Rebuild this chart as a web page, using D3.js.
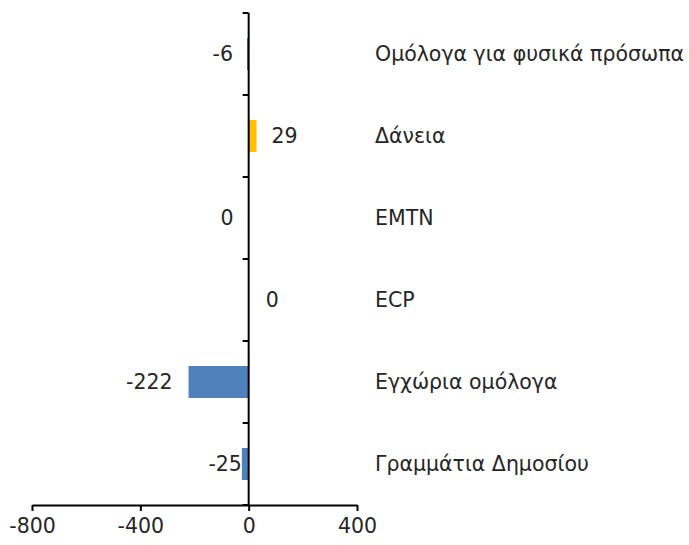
<!DOCTYPE html>
<html><head><meta charset="utf-8">
<script src="https://cdn.jsdelivr.net/npm/d3@7"></script>
<style>body{margin:0;background:#fff}svg{display:block}</style>
</head><body>
<script>
const categories = ["Ομόλογα για φυσικά πρόσωπα","Δάνεια","EMTN","ECP","Εγχώρια ομόλογα","Γραμμάτια Δημοσίου"];
const values = [-6, 29, 0, 0, -222, -25];
const barColors = ["#4F81BD","#FFC000","#4F81BD","#4F81BD","#4F81BD","#4F81BD"];
const xTicks = [-800, -400, 0, 400];
// label offsets (px) from bar end
const labelDx = [-14, 15, -15, 17, -16, 0];

const W = 689, H = 545;
const svg = d3.select("body").append("svg").attr("width", W).attr("height", H);
const font = "'DejaVu Sans', Verdana, sans-serif";
const fs = 20.5;
const x = d3.scaleLinear().domain([-800, 400]).range([32, 357]);
const y = d3.scaleBand().domain(categories).range([13, 505]).paddingInner(0.61).paddingOuter(0.305);
const fmt = v => String(v).replace("\u2212", "-");

// bars
svg.selectAll("rect.bar").data(categories).join("rect")
  .attr("x", (d,i) => x(Math.min(0, values[i])))
  .attr("y", d => y(d))
  .attr("width", (d,i) => Math.abs(x(values[i]) - x(0)))
  .attr("height", y.bandwidth())
  .attr("fill", (d,i) => barColors[i]);

// x axis
const xa = svg.append("g").attr("transform", "translate(0,505)")
  .call(d3.axisBottom(x).tickValues(xTicks).tickFormat(fmt).tickSize(6).tickSizeOuter(0).tickPadding(7));
xa.select(".domain").attr("stroke", "#000").attr("stroke-width", 2);
xa.selectAll(".tick line").attr("stroke", "#000").attr("stroke-width", 2);
xa.selectAll("text").attr("font-family", font).attr("font-size", fs).attr("fill", "#262626");

// y axis at zero
const step = y.step();
const boundaries = d3.range(categories.length + 1).map(i => 13 + i * step);
svg.append("line").attr("x1", x(0)).attr("x2", x(0)).attr("y1", 13).attr("y2", 505)
  .attr("stroke", "#000").attr("stroke-width", 2);
svg.selectAll("line.yt").data(boundaries).join("line")
  .attr("x1", x(0) - 6).attr("x2", x(0)).attr("y1", d => d).attr("y2", d => d)
  .attr("stroke", "#000").attr("stroke-width", 2);

// value labels
svg.selectAll("text.val").data(categories).join("text")
  .attr("x", (d,i) => x(values[i]) + labelDx[i])
  .attr("y", d => y(d) + y.bandwidth()/2)
  .attr("dy", "0.35em")
  .attr("text-anchor", (d,i) => labelDx[i] > 0 ? "start" : "end")
  .attr("font-family", font).attr("font-size", fs).attr("fill", "#262626")
  .text((d,i) => fmt(values[i]));

// category labels
svg.selectAll("text.cat").data(categories).join("text")
  .attr("x", 375)
  .attr("y", d => y(d) + y.bandwidth()/2)
  .attr("dy", "0.35em")
  .attr("font-family", font).attr("font-size", fs).attr("fill", "#262626")
  .text(d => d);
</script>
</body></html>
